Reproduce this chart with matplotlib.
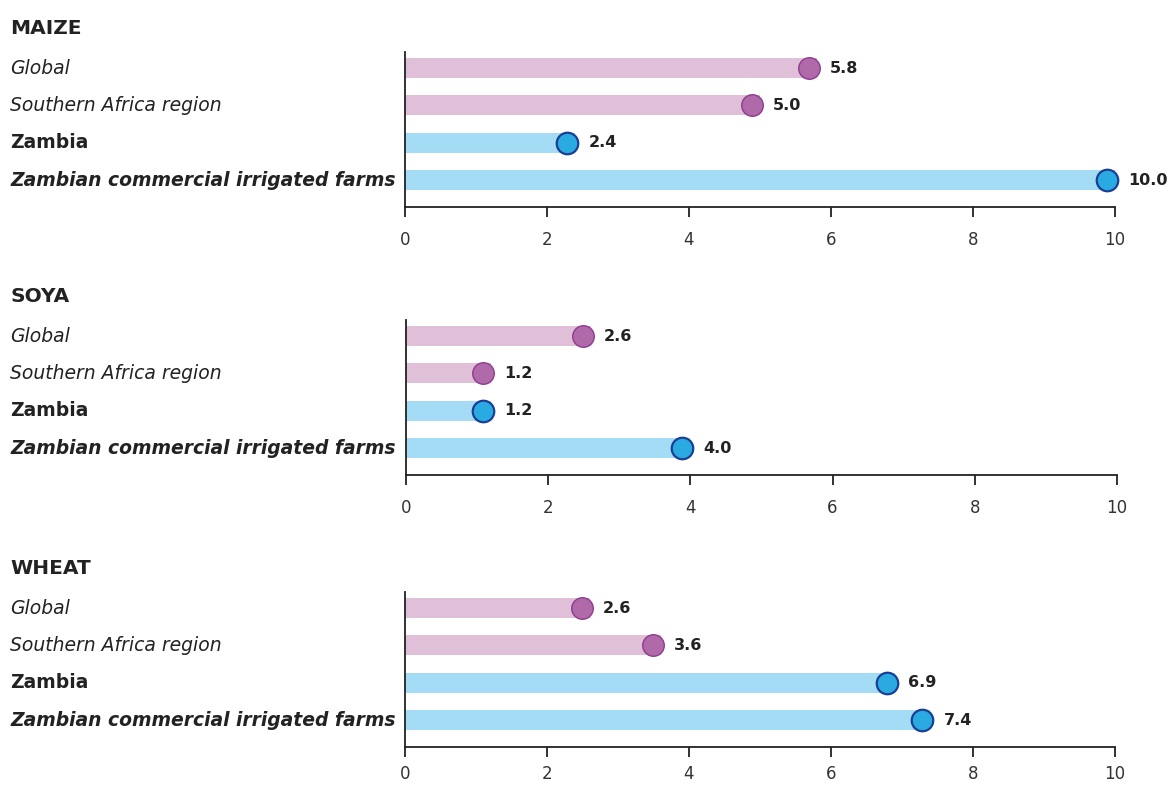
import matplotlib
matplotlib.use("Agg")
import matplotlib.pyplot as plt
from matplotlib.transforms import blended_transform_factory, offset_copy

plt.rcParams['font.family'] = ['DejaVu Sans']

crops = ["MAIZE", "SOYA", "WHEAT"]
categories = ["Global", "Southern Africa region", "Zambia", "Zambian commercial irrigated farms"]
maize = [5.8, 5.0, 2.4, 10.0]
soya = [2.6, 1.2, 1.2, 4.0]
wheat = [2.6, 3.6, 6.9, 7.4]
values = [maize, soya, wheat]
xticks = [0, 2, 4, 6, 8, 10]

bar_colors = ["#e0bfd9", "#e0bfd9", "#a4dcf5", "#a4dcf5"]
dot_colors = ["#b06aaa", "#b06aaa", "#29abe2", "#29abe2"]
dot_edges = ["#8e3a8f", "#8e3a8f", "#1b3f94", "#1b3f94"]
dot_ew = [1.0, 1.0, 1.6, 1.6]
label_styles = [("normal", "italic"), ("normal", "italic"), ("bold", "normal"), ("bold", "italic")]

W, H = 1171, 785
fig = plt.figure(figsize=(W / 100, H / 100), dpi=100)

panels = [  # left, right, top, bottom in pixels
    (405, 1115, 52, 207),
    (406, 1117, 320, 475),
    (405, 1115, 592, 747),
]
title_y = [28, 297, 569]
tick_pads = [10, 10, 6]

for p, (l, r, t, b) in enumerate(panels):
    ax = fig.add_axes([l / W, 1 - b / H, (r - l) / W, (b - t) / H])
    vals = values[p]
    ys = list(range(len(categories)))
    ax.barh(ys, vals, height=0.54, color=bar_colors, zorder=1)
    dot_tr = offset_copy(ax.transData, fig=fig, x=-8, y=0, units='dots')
    for i, v in enumerate(vals):
        ax.plot([v], [i], marker='o', markersize=15.5, color=dot_colors[i],
                markeredgecolor=dot_edges[i], markeredgewidth=dot_ew[i],
                transform=dot_tr, zorder=3, clip_on=False)
        ax.annotate(f"{v:.1f}", xy=(v, i), xytext=(13, 0), textcoords='offset pixels',
                    ha='left', va='center', fontsize=11.5, fontweight='bold',
                    color='#222222', annotation_clip=False)
    ax.set_xlim(0, 10)
    ax.set_ylim(3.72, -0.43)
    ax.set_xticks(xticks)
    ax.set_xticklabels([str(x) for x in xticks], fontsize=12, color='#333333')
    ax.set_yticks([])
    for s in ['top', 'right']:
        ax.spines[s].set_visible(False)
    for s in ['left', 'bottom']:
        ax.spines[s].set_color('#222222')
        ax.spines[s].set_linewidth(1.3)
    ax.tick_params(axis='x', length=7, width=1.3, color='#222222', pad=tick_pads[p], direction='out')
    tr = blended_transform_factory(fig.transFigure, ax.transData)
    for i, c in enumerate(categories):
        w, st = label_styles[i]
        ax.text(10 / W, i, c, transform=tr, ha='left', va='center',
                fontsize=13.5, fontweight=w, fontstyle=st,
                color='#222222')
    fig.text(10 / W, 1 - title_y[p] / H, crops[p], ha='left', va='center',
             fontsize=14.5, fontweight='bold', color='#222222')

fig.savefig("out.png", dpi=100)
